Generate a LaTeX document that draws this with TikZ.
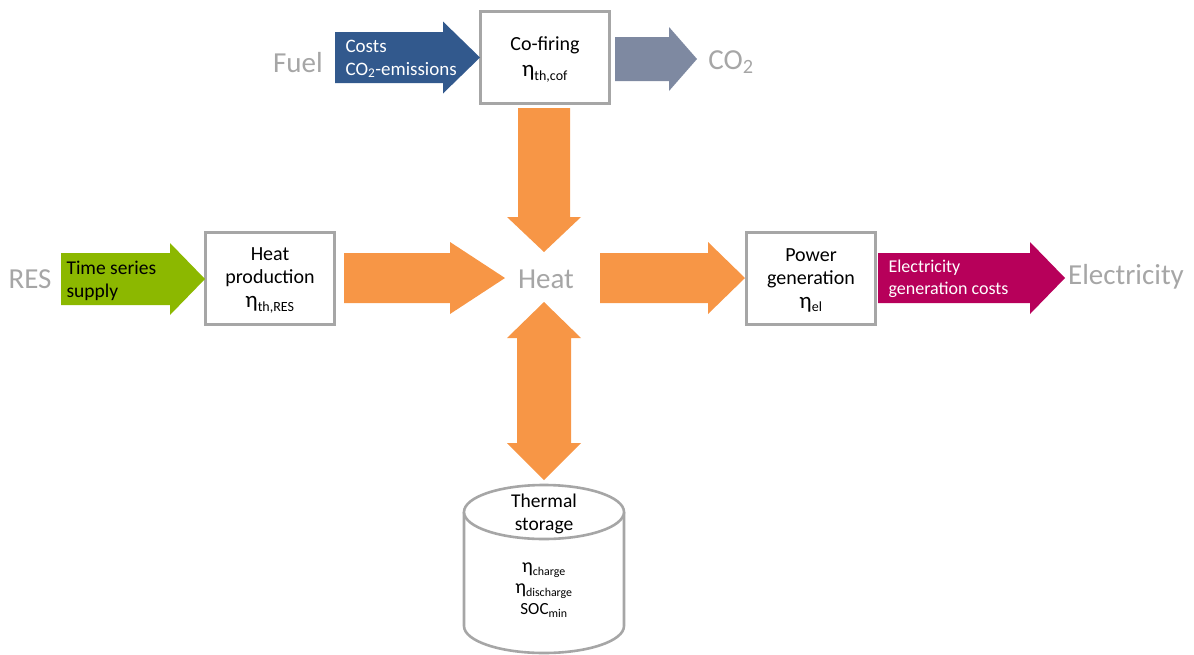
\documentclass[tikz,border=0pt]{standalone}
\usepackage{fontspec}
\setmainfont{Carlito}
\usetikzlibrary{calc}
\definecolor{boxgray}{RGB}{166,166,166}
\definecolor{labelgray}{RGB}{166,166,166}
\definecolor{fuelblue}{RGB}{50,89,141}
\definecolor{co2gray}{RGB}{126,137,161}
\definecolor{heatorange}{RGB}{247,150,70}
\definecolor{resgreen}{RGB}{140,184,0}
\definecolor{elmagenta}{RGB}{183,0,90}
% horizontal block arrow: #1 colour, #2 x start, #3 x head base, #4 x tip, #5 y, #6 half body, #7 half head
\newcommand\hblock[7]{\fill[#1] (#2,#5-#6) -- (#3,#5-#6) -- (#3,#5-#7) -- (#4,#5) -- (#3,#5+#7) -- (#3,#5+#6) -- (#2,#5+#6) -- cycle;}
\newcommand\etaof[1]{{\fontsize{23}{23}\selectfont η}\textsubscript{#1}}
\begin{document}
\begin{tikzpicture}[x=1pt,y=-1pt,
  procbox/.style={draw=boxgray,line width=2.6pt,fill=white,minimum width=129pt,minimum height=92pt,inner sep=0pt},
  boxtext/.style={font=\fontsize{20}{23}\selectfont,align=center},
  bigl/.style={font=\fontsize{29}{32}\selectfont,text=labelgray},
  arrl/.style={align=left,text=white,anchor=west}]
\useasboundingbox (0,0) rectangle (1194,654);

% process boxes
\node[procbox] (cof) at (545,57.5) {};
\node[procbox] (prod) at (270,278.5) {};
\node[procbox] (pow) at (811,278.5) {};

\node[boxtext] at ($(cof.center)+(0,2)$) {Co-firing\\[3pt]\etaof{th,cof}};
\node[boxtext] at ($(prod.center)+(0,2)$) {Heat\\production\\[1pt]\etaof{th,RES}};
\node[boxtext] at ($(pow.center)+(0,2)$) {Power\\generation\\[1pt]\etaof{el}};

% free labels
\node[bigl] (fuel) at (298,63) {Fuel};
\node[bigl] (co2) at (731,62) {CO\textsubscript{2}};
\node[bigl] (res) at (30,279) {RES};
\node[bigl] (heat) at (546,279) {Heat};
\node[bigl] (elec) at (1126,277) {Electricity};

% input / output arrows
\hblock{fuelblue}{335}{443}{480}{57.5}{25.5}{36}
\node[arrl,font=\fontsize{19}{23}\selectfont] at (342,46) {Costs};
\node[arrl,font=\fontsize{19}{23}\selectfont] at (342,70) {CO\textsubscript{2}-emissions};
\hblock{co2gray}{615}{669}{697}{59}{22}{32}
\hblock{resgreen}{61}{170}{205}{279}{26}{36}
\node[arrl,text=black,font=\fontsize{19.5}{23}\selectfont] at (63,268) {Time series};
\node[arrl,text=black,font=\fontsize{19.5}{23}\selectfont] at (63,292) {supply};
\hblock{elmagenta}{878}{1030}{1065}{278}{25}{36}
\node[arrl,font=\fontsize{18}{23}\selectfont] at (885,268) {Electricity};
\node[arrl,font=\fontsize{18}{23}\selectfont] at (885,290) {generation costs};

% heat flows
\hblock{heatorange}{344}{450}{505}{278}{25}{36}
\hblock{heatorange}{600}{708}{745}{278}{25}{36}
\fill[heatorange] (518,108) -- (570,108) -- (570,217) -- (581,217) -- (544,252) -- (507,217) -- (518,217) -- cycle;
\fill[heatorange] (544,302) -- (581,338) -- (571,338) -- (571,443) -- (581,443) -- (544,480)
  -- (507,443) -- (517,443) -- (517,338) -- (507,338) -- cycle;

% thermal storage cylinder
\coordinate (store) at (544,512);
\draw[boxgray,line width=2.6pt,fill=white] (464,512) -- (464,626) arc[start angle=180,end angle=0,x radius=80,y radius=27] -- (624,512);
\draw[boxgray,line width=2.6pt,fill=white] (store) ellipse[x radius=80,y radius=27];
\node[boxtext,font=\fontsize{19.5}{23}\selectfont] at (544,514) {Thermal\\storage};
\node[boxtext,font=\fontsize{17}{21}\selectfont] at (544,590) {{\fontsize{20}{21}\selectfont η}\textsubscript{charge}\\{\fontsize{20}{21}\selectfont η}\textsubscript{discharge}\\SOC\textsubscript{min}};
\end{tikzpicture}
\end{document}
